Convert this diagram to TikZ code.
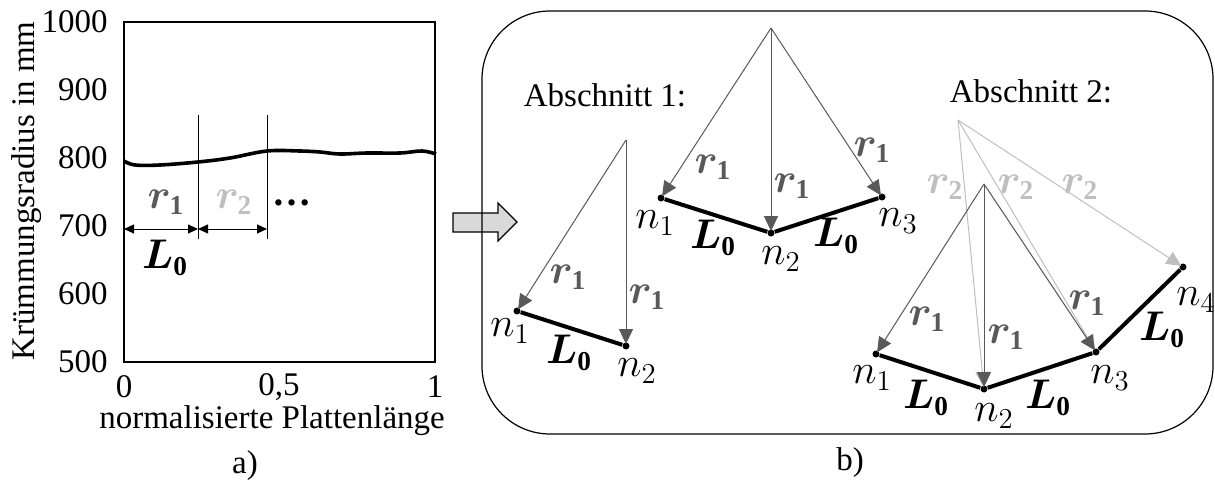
\documentclass[tikz,border=0pt]{standalone}
\usepackage{fontspec}
\setmainfont{Liberation Serif}
\usepackage{amsmath,bm}
\usetikzlibrary{arrows.meta}
\definecolor{dgray}{HTML}{595959}
\definecolor{lgray}{HTML}{BFBFBF}
\definecolor{blockfill}{HTML}{D9D9D9}
\newcommand\myRa{$\bm{r}_{\mathbf{1}}$}
\newcommand\myRb{$\bm{r}_{\mathbf{2}}$}
\newcommand\myL{$\bm{L}_{\mathbf{0}}$}
\newcommand\myN[1]{$n_{#1}$}
\tikzset{
  every node/.style={font=\fontsize{16.5}{19}\selectfont},
  mathfont/.style={font=\fontsize{19.5}{23}\selectfont},
  dotnode/.style={circle,fill=black,inner sep=0pt,minimum size=3.5pt},
  rarrow/.style={draw=dgray,line width=0.5pt,-{Triangle[length=7.5pt,width=7pt,fill=dgray]},shorten >=-1pt},
  rbarrow/.style={draw=lgray,line width=0.5pt,-{Triangle[length=7.5pt,width=7pt,fill=lgray]},shorten >=-1pt},
  seg/.style={line width=2pt,black},
  rlab/.style={mathfont,text=dgray,inner sep=0pt},
  rblab/.style={mathfont,text=lgray,inner sep=0pt},
  blab/.style={mathfont,inner sep=0pt},
  tick/.style={inner sep=0pt},
  dimarrow/.style={line width=0.5pt,{Triangle[length=5pt,width=4.5pt]}-{Triangle[length=5pt,width=4.5pt]}},
}
\begin{document}
\begin{tikzpicture}[x=0.5pt,y=-0.5pt]
\useasboundingbox (0,0) rectangle (1215,481);
% ---------- a) plot ----------
\draw[line width=0.6pt] (124,22) rectangle (435,362);
\foreach \v/\yy in {1000/22,900/90,800/158,700/226,600/294,500/362}
  \node[tick,anchor=east] (yt\v) at (108,\yy) {\v};
\node[tick] (xt0) at (124,387) {0};
\node[tick] (xt05) at (279,387) {0,5};
\node[tick] (xt1) at (435,387) {1};
\node[anchor=base,inner sep=0pt] (xlab) at (272,428) {normalisierte Plattenlänge};
\node[rotate=90,inner sep=0pt] (ylab) at (27,191) {Krümmungsradius in mm};
\node[anchor=base,inner sep=0pt] (capa) at (245,473) {a)};
\draw[line width=1.8pt,line join=round] plot[smooth,tension=0.6] coordinates
  {(124,161) (135,165) (160,165) (198,162) (230,158) (267,151) (300,151) (320,152) (340,154) (367,153) (400,153) (422,151) (436,154)};
\draw[line width=0.5pt] (198,115) -- (198,239);
\draw[line width=0.5pt] (267,115) -- (267,239);
\coordinate (d0) at (124,229);
\coordinate (d1) at (198,229);
\coordinate (d2) at (267,229);
\draw[dimarrow] (d0) -- (d1);
\draw[dimarrow] (d1) -- (d2);
\node[rlab] (pr1) at (166,202) {\myRa};
\node[rblab] (pr2) at (234,202) {\myRb};
\node[blab] (pdots) at (292,203) {\textbf{\dots}};
\node[blab] (pL) at (165,258) {\myL};
% ---------- block arrow ----------
\draw[line width=0.6pt,fill=blockfill] (453,213) -- (498,213) -- (498,203) -- (517,222) -- (498,241) -- (498,232) -- (453,232) -- cycle;
% ---------- b) frame ----------
\draw[line width=0.6pt,rounded corners=34pt] (482,11) rectangle (1213,434);
\node[anchor=base,inner sep=0pt] (capb) at (850,470) {b)};
\node[anchor=base,inner sep=0pt] (abs1) at (605,106) {Abschnitt 1:};
\node[anchor=base,inner sep=0pt] (abs2) at (1031,103) {Abschnitt 2:};
% ---------- Abschnitt 1, first element ----------
\coordinate (sA) at (626,140);
\node[dotnode] (sa1) at (517,311) {};
\node[dotnode] (sa2) at (626,346) {};
\draw[seg] (sa1) -- (sa2);
\draw[rarrow] (sA) -- (sa1);
\draw[rarrow] (sA) -- (sa2);
\node[rlab] at (568,277) {\myRa};
\node[rlab] at (647,297) {\myRa};
\node[blab] at (510,331) {\myN{1}};
\node[blab] at (569,353) {\myL};
\node[blab] at (637,371) {\myN{2}};
% ---------- Abschnitt 1, second element ----------
\coordinate (sB) at (771,28);
\node[dotnode] (sb1) at (661,198) {};
\node[dotnode] (sb2) at (771,233) {};
\node[dotnode] (sb3) at (882,197) {};
\draw[seg] (sb1) -- (sb2) -- (sb3);
\draw[rarrow] (sB) -- (sb1);
\draw[rarrow] (sB) -- (sb2);
\draw[rarrow] (sB) -- (sb3);
\node[rlab] at (713,167) {\myRa};
\node[rlab] at (792,186) {\myRa};
\node[rlab] at (872,150) {\myRa};
\node[blab] at (655,223) {\myN{1}};
\node[blab] at (713,238) {\myL};
\node[blab] at (781,259) {\myN{2}};
\node[blab] at (836,236) {\myL};
\node[blab] at (898,221) {\myN{3}};
% ---------- Abschnitt 2 ----------
\coordinate (sC2) at (958,120);
\coordinate (sC1) at (984,184);
\node[dotnode] (sc1) at (876,354) {};
\node[dotnode] (sc2) at (984,389) {};
\node[dotnode] (sc3) at (1096,352) {};
\node[dotnode] (sc4) at (1183,267) {};
\draw[seg] (sc1) -- (sc2) -- (sc3) -- (sc4);
\draw[rbarrow] (sC2) -- (sc2);
\draw[rbarrow] (sC2) -- (sc3);
\draw[rbarrow] (sC2) -- (sc4);
\draw[rarrow] (sC1) -- (sc1);
\draw[rarrow] (sC1) -- (sc2);
\draw[rarrow] (sC1) -- (sc3);
\node[rblab] at (945,187) {\myRb};
\node[rblab] at (1016,187) {\myRb};
\node[rblab] at (1080,187) {\myRb};
\node[rlab] at (927,319) {\myRa};
\node[rlab] at (1006,337) {\myRa};
\node[rlab] at (1087,303) {\myRa};
\node[blab] at (872,378) {\myN{1}};
\node[blab] at (926,398) {\myL};
\node[blab] at (994,416) {\myN{2}};
\node[blab] at (1048,398) {\myL};
\node[blab] at (1110,378) {\myN{3}};
\node[blab] at (1162,330) {\myL};
\node[blab] at (1196,300) {\myN{4}};
\end{tikzpicture}
\end{document}
